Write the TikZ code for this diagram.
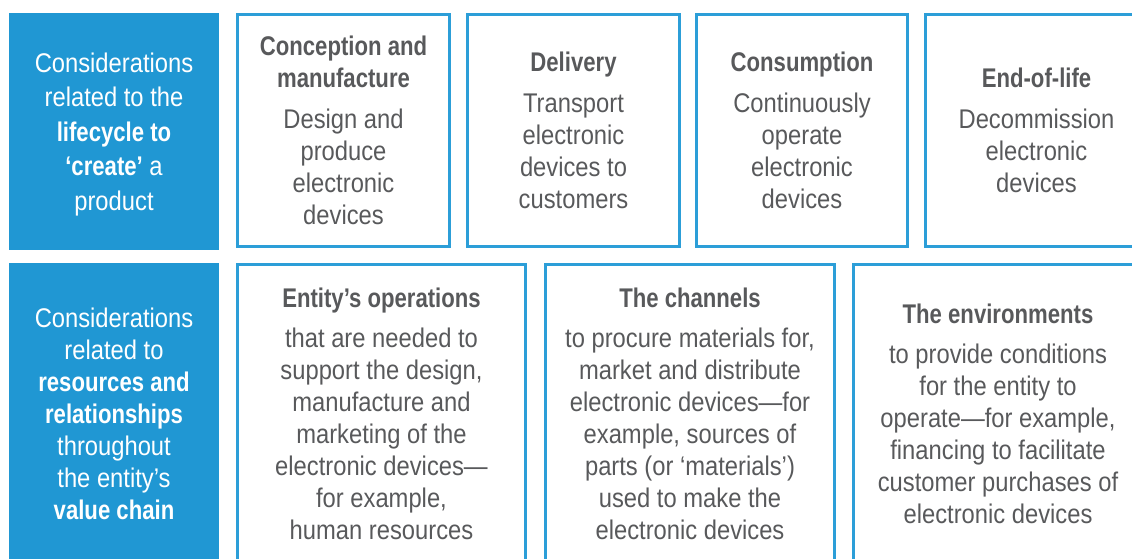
\documentclass[tikz,border=0pt]{standalone}
\usepackage{fontspec}
\setmainfont{Liberation Sans}[FakeStretch=0.88, BoldFeatures={FakeStretch=0.82}]
\usepackage{tikz}

\definecolor{chainblue}{RGB}{32,151,211}
\definecolor{boxline}{RGB}{44,158,216}
\definecolor{bodygray}{RGB}{88,89,91}

\begin{document}
\begin{tikzpicture}[x=1pt, y=-1pt,
    rowhead/.style={fill=chainblue, text=white, align=center, inner sep=0pt, minimum width=210pt, text depth=0pt},
    stage/.style={draw=boxline, line width=3pt, text=bodygray, align=center, inner sep=0pt},
    every node/.style={font=\fontsize{27}{32}\selectfont}]
    \useasboundingbox (0,0) rectangle (1132,559);
    \clip (0,0) rectangle (1132,559);
 % Lifecycle row
    \node [rowhead, minimum height=237pt, font=\fontsize{27}{34.5}\selectfont] (lifecycle) at (114,131.5)
        {Considerations\\related to the\\\textbf{lifecycle to}\\\textbf{‘create’} a\\product};
    \node [stage, minimum width=212pt, minimum height=232pt] (conception) at (343.5,130.5)
        {\textbf{Conception and}\\\textbf{manufacture}\\[9pt]Design and\\produce\\electronic\\devices};
    \node [stage, minimum width=212pt, minimum height=232pt] (delivery) at (573.5,130.5)
        {\textbf{Delivery}\\[9pt]Transport\\electronic\\devices to\\customers};
    \node [stage, minimum width=211pt, minimum height=232pt] (consumption) at (802,130.5)
        {\textbf{Consumption}\\[9pt]Continuously\\operate\\electronic\\devices};
    \node [stage, minimum width=222pt, minimum height=232pt] (endoflife) at (1036.5,130.5)
        {\textbf{End-of-life}\\[9pt]Decommission\\electronic\\devices};
 % Value chain row
    \node [rowhead, minimum height=301pt] (valuechain) at (114,413.5)
        {Considerations\\related to\\\textbf{resources and}\\\textbf{relationships}\\throughout\\the entity’s\\\textbf{value chain}};
    \node [stage, minimum width=288pt, minimum height=298pt] (operations) at (381.5,413.5)
        {\textbf{Entity’s operations}\\[8pt]that are needed to\\support the design,\\manufacture and\\marketing of the\\electronic devices—\\for example,\\human resources};
    \node [stage, minimum width=289pt, minimum height=298pt] (channels) at (690,413.5)
        {\textbf{The channels}\\[8pt]to procure materials for,\\market and distribute\\electronic devices—for\\example, sources of\\parts (or ‘materials’)\\used to make the\\electronic devices};
    \node [stage, minimum width=289pt, minimum height=298pt] (environments) at (998,413.5)
        {\textbf{The environments}\\[8pt]to provide conditions\\for the entity to\\operate—for example,\\financing to facilitate\\customer purchases of\\electronic devices};
\end{tikzpicture}
\end{document}
